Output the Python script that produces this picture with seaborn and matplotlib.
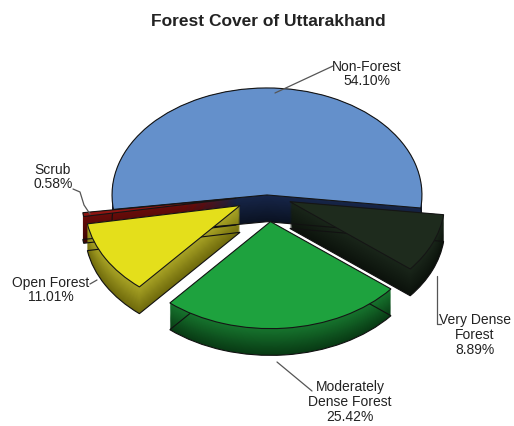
import numpy as np
import matplotlib
matplotlib.use("Agg")
import matplotlib.pyplot as plt
import seaborn as sns
from matplotlib.colors import to_rgb
from matplotlib.lines import Line2D

# ---- data ----
categories = ["Non-Forest", "Scrub", "Open Forest", "Moderately\nDense Forest", "Very Dense\nForest"]
values = [54.10, 0.58, 11.01, 25.42, 8.89]
pct_labels = ["54.10%", "0.58%", "11.01%", "25.42%", "8.89%"]

# ---- style ----
top_colors = ["#6490cb", "#8e1512", "#e4df1b", "#1ea23e", "#1e2b1d"]
side_dark = ["#0a1222", "#3a0605", "#6f6a0c", "#083a14", "#0b120b"]
side_light = ["#17264a", "#6a0c0a", "#aaa526", "#17752e", "#1a261a"]
explode = [0.0, 0.2, 0.2, 0.25, 0.16]
start = -7

sns.set_theme(style="white")
plt.rcParams['font.family'] = ['Liberation Sans', 'DejaVu Sans']

W, H = 514, 426
fig = plt.figure(figsize=(W / 100, H / 100), dpi=100)
ax = fig.add_axes([0, 0, 1, 1])

depth = 0.25
n = 30
for i, d in enumerate(np.linspace(depth, 0.0, n)):
    t = i / (n - 1)
    cols = [tuple(np.array(to_rgb(a)) * (1 - t) + np.array(to_rgb(b)) * t)
            for a, b in zip(side_dark, side_light)]
    ax.pie(values, explode=explode, colors=cols, startangle=start,
           counterclock=True, center=(0, -d), radius=1.0,
           wedgeprops=dict(linewidth=0))
bottom, _ = ax.pie(values, explode=explode, startangle=start,
                   center=(0, -depth), radius=1.0,
                   wedgeprops=dict(linewidth=0.8, edgecolor="#111111"))
for b in bottom:
    b.set_facecolor("none")
wedges, _ = ax.pie(values, explode=explode, colors=top_colors, startangle=start,
                   counterclock=True, center=(0, 0), radius=1.0,
                   wedgeprops=dict(linewidth=0.8, edgecolor="#151515"))

ax.set_aspect('auto')
ax.set_xlim(-1.723, 1.594)
ax.set_ylim(-2.159, 1.822)
ax.axis('off')


def leader(points):
    xs = [p[0] / W for p in points]
    ys = [1 - p[1] / H for p in points]
    fig.add_artist(Line2D(xs, ys, transform=fig.transFigure, color='#555555', lw=0.9))


txt_kw = dict(ha='center', va='center', fontsize=10, color='#222222', linespacing=1.05)

leader([(333, 66), (275, 93)])
fig.text(367 / W, 1 - 74 / H, categories[0] + "\n" + pct_labels[0], **txt_kw)

leader([(73, 189), (80, 192), (84, 205), (90, 214)])
fig.text(53 / W, 1 - 177 / H, categories[1] + "\n" + pct_labels[1], **txt_kw)

leader([(90, 284), (97, 280)])
fig.text(51 / W, 1 - 290 / H, categories[2] + "\n" + pct_labels[2], **txt_kw)

leader([(437, 276), (437, 324), (441, 324)])
fig.text(475 / W, 1 - 335 / H, categories[4] + "\n" + pct_labels[4], **txt_kw)

leader([(277, 362), (312, 391)])
fig.text(350 / W, 1 - 402 / H, categories[3] + "\n" + pct_labels[3], **txt_kw)

fig.text(268 / W, 1 - 21 / H, "Forest Cover of Uttarakhand", ha='center', va='center',
         fontsize=12.5, fontweight='bold', color='#222222')

fig.savefig("out.png", dpi=100, facecolor="white")
